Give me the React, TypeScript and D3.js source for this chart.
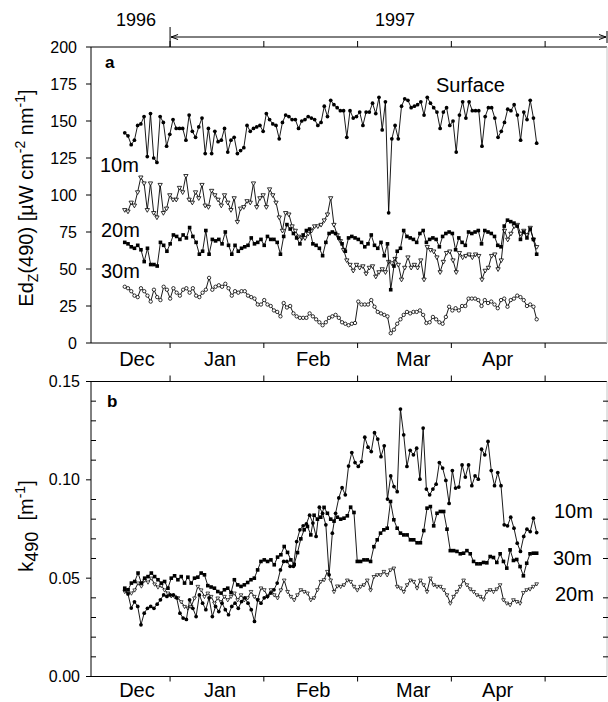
import { useEffect, useRef } from 'react';
import * as d3 from 'd3';

const FONT = '"Liberation Sans", Arial, Helvetica, sans-serif';

// x axis in days counted from 1 Jan 1997
const monthTickDays = [0, 30, 60, 90, 120];
const monthNames = ['Dec', 'Jan', 'Feb', 'Mar', 'Apr'];
const monthNameDays = [-10.6, 16, 45.8, 77.8, 104.8];
const firstDay = -14.5;
const lastDay = 117.3;

const edTicks = [0, 25, 50, 75, 100, 125, 150, 175, 200];
const kTicks = [0, 0.05, 0.1, 0.15];
const kMinorTicks = [0.01, 0.02, 0.03, 0.04, 0.06, 0.07, 0.08, 0.09, 0.11, 0.12, 0.13, 0.14];

// panel a: Ed(490) at the surface and three depths
const edSurface = [
  142, 140, 134, 137, 147, 148, 153, 126, 155, 125, 122, 153, 149, 133, 141, 151, 145, 145, 145, 137,
  154, 143, 139, 146, 152, 128, 145, 128, 143, 136, 137, 145, 129, 137, 139, 128, 130, 132, 147, 143,
  145, 146, 147, 143, 155, 151, 148, 147, 138, 149, 154, 153, 151, 151, 145, 150,
  151, 153, 152, 151, 147, 149, 160, 153, 164, 161, 159, 157, 157, 139, 157, 152, 153, 156, 147, 156,
  156, 162, 155, 166, 144, 163, 88, 138, 147, 138, 160, 165, 164, 159, 160, 161, 163, 154, 166, 162,
  159, 156, 145, 156, 159, 147, 150, 129, 154, 163, 152, 163, 157, 157, 157, 133, 153, 159, 159, 152,
  139, 143, 149, 158, 157, 161, 154, 137, 156, 151, 164, 152, 135,
];
const ed10m = [
  90, 89, 95, 93, 102, 112, 108, 90, 108, 88, 85, 107, 88, 91, 100, 97, 97, 105, 102, 113,
  97, 95, 102, 98, 107, 93, 92, 103, 100, 97, 93, 100, 95, 90, 98, 82, 91, 92, 96, 95,
  108, 92, 98, 100, 92, 104, 100, 95, 85, 76, 88, 87, 79, 76, 72, 71,
  71, 74, 76, 79, 79, 80, 83, 87, 98, 80, 73, 69, 63, 56, 53, 49, 53, 51, 52, 47,
  51, 52, 45, 48, 50, 48, 55, 54, 57, 53, 43, 51, 58, 51, 53, 51, 56, 43, 65, 63,
  62, 58, 48, 55, 61, 62, 56, 48, 61, 58, 59, 60, 58, 60, 59, 43, 49, 51, 59, 60,
  50, 56, 76, 70, 74, 79, 80, 74, 76, 73, 78, 70, 65,
];
const ed20m = [
  68, 67, 65, 64, 66, 63, 55, 64, 53, 53, 52, 68, 66, 62, 67, 73, 72, 70, 73, 71,
  78, 72, 68, 60, 62, 76, 60, 70, 69, 70, 67, 75, 66, 60, 66, 62, 64, 65, 66, 71,
  67, 68, 70, 66, 72, 70, 70, 68, 60, 72, 80, 77, 74, 71, 67, 73,
  76, 77, 67, 66, 64, 59, 68, 74, 75, 74, 71, 67, 62, 71, 72, 71, 70, 68, 65, 67,
  73, 66, 64, 68, 59, 67, 36, 52, 62, 64, 76, 72, 71, 70, 68, 74, 76, 68, 70, 71,
  70, 65, 72, 74, 75, 74, 63, 71, 68, 66, 75, 74, 75, 76, 67, 76, 75, 74, 72, 66,
  65, 79, 83, 82, 81, 79, 70, 75, 71, 77, 70, 60,
];
const ed30m = [
  38, 37, 35, 32, 31, 37, 35, 32, 28, 36, 31, 29, 38, 36, 30, 37, 34, 32, 36, 37,
  34, 37, 32, 31, 34, 36, 44, 36, 38, 39, 38, 40, 37, 32, 35, 34, 35, 35, 32, 31,
  30, 26, 26, 29, 26, 25, 22, 21, 18, 27, 24, 25, 20, 18, 17, 17,
  17, 20, 18, 16, 14, 12, 14, 17, 18, 19, 17, 14, 13, 12, 13, 13.5, 28, 26, 26, 26,
  29, 24.5, 21, 20, 19, 18, 6.6, 9, 13, 16, 19, 21, 20, 21, 21, 22, 19, 13.5, 14, 17.6,
  16, 14, 13, 17.6, 24.5, 22, 23.5, 22, 25, 25, 30, 30, 30, 29, 25, 29, 27, 28, 26, 23.5,
  29, 30, 24.5, 29, 30, 32, 31, 29, 25, 26, 24.5, 16,
];

// panel b: attenuation k(490)
const k10m = [
  0.0441, 0.042, 0.0348, 0.038, 0.0356, 0.0263, 0.0322, 0.0347, 0.0356, 0.0347,
  0.0368, 0.039, 0.0415, 0.0407, 0.0415, 0.0415, 0.04, 0.0322, 0.0297, 0.029,
  0.039, 0.0347, 0.0305, 0.0415, 0.0373, 0.034, 0.04, 0.0305, 0.0356, 0.033,
  0.0373, 0.034, 0.0314, 0.0356, 0.0373, 0.0347, 0.0381, 0.04, 0.0373, 0.034,
  0.028, 0.039, 0.0373, 0.04, 0.0407, 0.0424, 0.0441, 0.0475, 0.0542, 0.0585,
  0.0585, 0.056, 0.056, 0.0686, 0.0746,
  0.0766, 0.0776, 0.082, 0.078, 0.0712, 0.0861, 0.083, 0.0771, 0.0517, 0.0729,
  0.083, 0.0908, 0.096, 0.0924, 0.107, 0.1139, 0.1088, 0.1068, 0.1093, 0.1217,
  0.1166, 0.1144, 0.124, 0.1207, 0.1118, 0.1173, 0.0902, 0.102, 0.0966, 0.094,
  0.136, 0.1229, 0.1068, 0.115, 0.1127, 0.1161, 0.1003, 0.1263, 0.0953, 0.0924,
  0.0953, 0.0978, 0.1088, 0.106, 0.0997, 0.088, 0.1047, 0.0958, 0.0963, 0.1076,
  0.1014, 0.1076, 0.097, 0.102, 0.1003, 0.1156, 0.1127, 0.1195, 0.1047, 0.097,
  0.1037, 0.097, 0.0771, 0.0766, 0.081, 0.0754, 0.0678, 0.0636, 0.0712, 0.0749,
  0.0737, 0.0805, 0.0732,
];
const k30m = [
  0.0449, 0.0441, 0.0475, 0.0483, 0.0526, 0.0475, 0.05, 0.0508, 0.0526, 0.0508,
  0.0492, 0.0475, 0.0483, 0.0449, 0.05, 0.0512, 0.0492, 0.0508, 0.0475, 0.0505,
  0.0475, 0.05, 0.0505, 0.0526, 0.0517, 0.0462, 0.0455, 0.0449, 0.0432, 0.0424,
  0.0441, 0.0449, 0.0427, 0.0492, 0.0466, 0.0458, 0.0466, 0.0478, 0.0492, 0.05,
  0.0542, 0.0585, 0.0593, 0.0585, 0.0593, 0.0568, 0.0607, 0.0619, 0.0661, 0.0631,
  0.0593, 0.057, 0.063, 0.07, 0.0746, 0.0763,
  0.072, 0.082, 0.08, 0.081, 0.086, 0.083, 0.08, 0.079, 0.081, 0.08,
  0.0805, 0.0817, 0.0861, 0.0834, 0.0585, 0.0585, 0.0593, 0.0593, 0.0585, 0.066,
  0.0695, 0.0729, 0.0746, 0.0754, 0.089, 0.0797, 0.0754, 0.0729, 0.072, 0.072,
  0.0695, 0.0695, 0.068, 0.068, 0.0742, 0.0856, 0.0864, 0.0766, 0.083, 0.0839,
  0.0839, 0.0749, 0.064, 0.064, 0.0636, 0.0624, 0.0627, 0.064, 0.0624, 0.0585,
  0.0573, 0.0573, 0.058, 0.0578, 0.061, 0.0605, 0.058, 0.0624, 0.0585, 0.0551,
  0.0644, 0.059, 0.0595, 0.0559, 0.0512, 0.0576, 0.0624, 0.0627, 0.0627,
];
const k20m = [
  0.0432, 0.0424, 0.0424, 0.044, 0.0475, 0.046, 0.049, 0.048, 0.05, 0.047,
  0.0455, 0.0462, 0.044, 0.0424, 0.041, 0.0407, 0.04, 0.038, 0.0356, 0.0348,
  0.0356, 0.0399, 0.0458, 0.044, 0.0407, 0.0424, 0.0407, 0.0373, 0.0399, 0.038,
  0.0407, 0.039, 0.0407, 0.0424, 0.039, 0.0415, 0.039, 0.04, 0.0432, 0.0407,
  0.039, 0.045, 0.0441, 0.0407, 0.0441, 0.0415, 0.04, 0.044, 0.049, 0.0432,
  0.0407, 0.039, 0.0415, 0.0441, 0.0432, 0.0424,
  0.039, 0.04, 0.0441, 0.0483, 0.0492, 0.0534, 0.049, 0.0432, 0.046, 0.0458,
  0.0466, 0.049, 0.0483, 0.0458, 0.044, 0.0458, 0.0466, 0.049, 0.044, 0.0508,
  0.0517, 0.0517, 0.0534, 0.0517, 0.0542, 0.0551, 0.0458, 0.045, 0.0432, 0.0466,
  0.049, 0.0483, 0.045, 0.049, 0.0466, 0.0432, 0.05, 0.0466, 0.0458, 0.0458,
  0.0441, 0.0415, 0.0373, 0.0407, 0.0432, 0.0458, 0.049, 0.0466, 0.0445, 0.0432,
  0.0415, 0.0407, 0.0393, 0.0432, 0.0441, 0.0432, 0.0445, 0.0466, 0.039, 0.0373,
  0.0365, 0.039, 0.0381, 0.0373, 0.0427, 0.0441, 0.0445, 0.0458, 0.0471,
];

type Marker = 'dot' | 'square' | 'ring' | 'tri' | 'smalltri';

export default function App() {
  const svgRef = useRef<SVGSVGElement>(null);

  useEffect(() => {
    if (!svgRef.current) return;
    const svg = d3.select(svgRef.current);
    svg.selectAll('*').remove();

    const left = 91;
    const right = 607;
    const x = d3.scaleLinear().domain([-25.3, 139.8]).range([left, right]);
    const yA = d3.scaleLinear().domain([0, 200]).range([343, 47]);
    const yB = d3.scaleLinear().domain([0, 0.15]).range([676.5, 381.5]);

    const g = svg.append('g').attr('font-family', FONT).attr('fill', '#000');

    const line = (x1: number, y1: number, x2: number, y2: number, color = '#000') =>
      g.append('line')
        .attr('x1', x1).attr('y1', y1).attr('x2', x2).attr('y2', y2)
        .attr('stroke', color).attr('stroke-width', 1);

    // frame with month ticks and labels
    const drawFrame = (y: d3.ScaleLinear<number, number>, labelBase: number) => {
      const [bottom, top] = y.range();
      line(left, top, right, top);
      line(left, top, left, bottom);
      line(left, bottom, right, bottom);
      line(right, top, right, bottom, '#c4c4c4');
      monthTickDays.forEach(d => {
        line(x(d), top, x(d), top - 6);
        line(x(d), bottom, x(d), bottom + 5);
      });
      monthNames.forEach((m, i) => {
        g.append('text')
          .attr('x', x(monthNameDays[i])).attr('y', labelBase)
          .attr('text-anchor', 'middle').attr('font-size', 20)
          .text(m);
      });
    };

    drawFrame(yA, 366);
    drawFrame(yB, 697);

    // panel a y axis
    edTicks.forEach(t => {
      line(left - 5, yA(t), left, yA(t));
      g.append('text')
        .attr('x', left - 14).attr('y', yA(t)).attr('dy', '0.35em')
        .attr('text-anchor', 'end').attr('font-size', 16)
        .text(t);
    });

    // panel b y axis
    kTicks.forEach(t => {
      line(left - 5, yB(t), left, yB(t));
      g.append('text')
        .attr('x', left - 11).attr('y', yB(t)).attr('dy', '0.35em')
        .attr('text-anchor', 'end').attr('font-size', 16)
        .text(d3.format('.2f')(t));
    });
    kMinorTicks.forEach(t => {
      line(left, yB(t), left + 5, yB(t));
      line(right - 4, yB(t), right + 1, yB(t));
    });

    // year header
    g.append('text').attr('x', 136).attr('y', 26).attr('text-anchor', 'middle')
      .attr('font-size', 18).text('1996');
    g.append('text').attr('x', 395).attr('y', 26).attr('text-anchor', 'middle')
      .attr('font-size', 18).text('1997');
    line(x(0), 27, x(0), 47);
    line(x(0) + 1, 37, right - 1, 37);
    line(x(0) + 1, 37, x(0) + 8, 34.5);
    line(x(0) + 1, 37, x(0) + 8, 39.5);
    line(right - 1, 37, right - 8, 34.5);
    line(right - 1, 37, right - 8, 39.5);
    line(right, 31, right, 43);

    // marker shapes
    const markers: Record<Marker, { d: string; fill: string; rot: string; sw: number }> = {
      dot: { d: d3.symbol(d3.symbolCircle, 11)()!, fill: '#000', rot: '', sw: 0 },
      square: { d: d3.symbol(d3.symbolSquare, 13)()!, fill: '#000', rot: '', sw: 0 },
      ring: { d: d3.symbol(d3.symbolCircle, 9)()!, fill: '#fff', rot: '', sw: 0.8 },
      tri: { d: d3.symbol(d3.symbolTriangle, 8)()!, fill: '#fff', rot: ' rotate(180)', sw: 0.8 },
      smalltri: { d: d3.symbol(d3.symbolTriangle, 6)()!, fill: '#fff', rot: ' rotate(180)', sw: 0.7 },
    };

    const drawSeries = (values: number[], y: d3.ScaleLinear<number, number>, kind: Marker) => {
      const step = (lastDay - firstDay) / (values.length - 1);
      const pts: [number, number][] = values.map((v, i) => [x(firstDay + i * step), y(v)]);
      g.append('path')
        .attr('d', d3.line()(pts))
        .attr('fill', 'none').attr('stroke', '#000').attr('stroke-width', 0.9);
      const m = markers[kind];
      g.append('g').selectAll('path')
        .data(pts)
        .enter()
        .append('path')
        .attr('d', m.d)
        .attr('transform', d => `translate(${d[0]},${d[1]})${m.rot}`)
        .attr('fill', m.fill)
        .attr('stroke', '#000')
        .attr('stroke-width', m.sw);
    };

    drawSeries(edSurface, yA, 'dot');
    drawSeries(ed10m, yA, 'tri');
    drawSeries(ed20m, yA, 'square');
    drawSeries(ed30m, yA, 'ring');

    drawSeries(k20m, yB, 'smalltri');
    drawSeries(k30m, yB, 'square');
    drawSeries(k10m, yB, 'dot');

    // panel letters and series names
    g.append('text').attr('x', 105).attr('y', 68).attr('font-size', 17)
      .attr('font-weight', 'bold').text('a');
    g.append('text').attr('x', 107).attr('y', 407).attr('font-size', 17)
      .attr('font-weight', 'bold').text('b');

    const label = (t: string, lx: number, ly: number) =>
      g.append('text').attr('x', lx).attr('y', ly).attr('font-size', 20).text(t);
    label('Surface', 436, 92);
    label('10m', 100, 172);
    label('20m', 101, 237);
    label('30m', 101, 278);
    label('10m', 554, 518);
    label('30m', 553, 565);
    label('20m', 555, 601);

    // y axis titles
    const tA = g.append('text')
      .attr('transform', 'translate(33,198) rotate(-90)')
      .attr('text-anchor', 'middle').attr('font-size', 20);
    tA.append('tspan').text('Ed');
    tA.append('tspan').attr('dy', 5).attr('font-size', 14).text('Z');
    tA.append('tspan').attr('dy', -5).text('(490) [\u00b5W cm');
    tA.append('tspan').attr('dy', -8).attr('font-size', 14).text('-2');
    tA.append('tspan').attr('dy', 8).text(' nm');
    tA.append('tspan').attr('dy', -8).attr('font-size', 14).text('-1');
    tA.append('tspan').attr('dy', 8).text(']');

    const tB = g.append('text')
      .attr('transform', 'translate(33,526) rotate(-90)')
      .attr('text-anchor', 'middle').attr('font-size', 20);
    tB.append('tspan').text('k');
    tB.append('tspan').attr('dy', 5).attr('font-size', 18).text('490');
    tB.append('tspan').attr('dy', -5).text('\u00a0\u00a0[m');
    tB.append('tspan').attr('dy', -8).attr('font-size', 14).text('-1');
    tB.append('tspan').attr('dy', 8).text(']');
  }, []);

  return (
    <svg
      ref={svgRef}
      width={608}
      height={702}
      style={{ position: 'absolute', left: 0, top: 0, background: '#fff' }}
    />
  );
}
